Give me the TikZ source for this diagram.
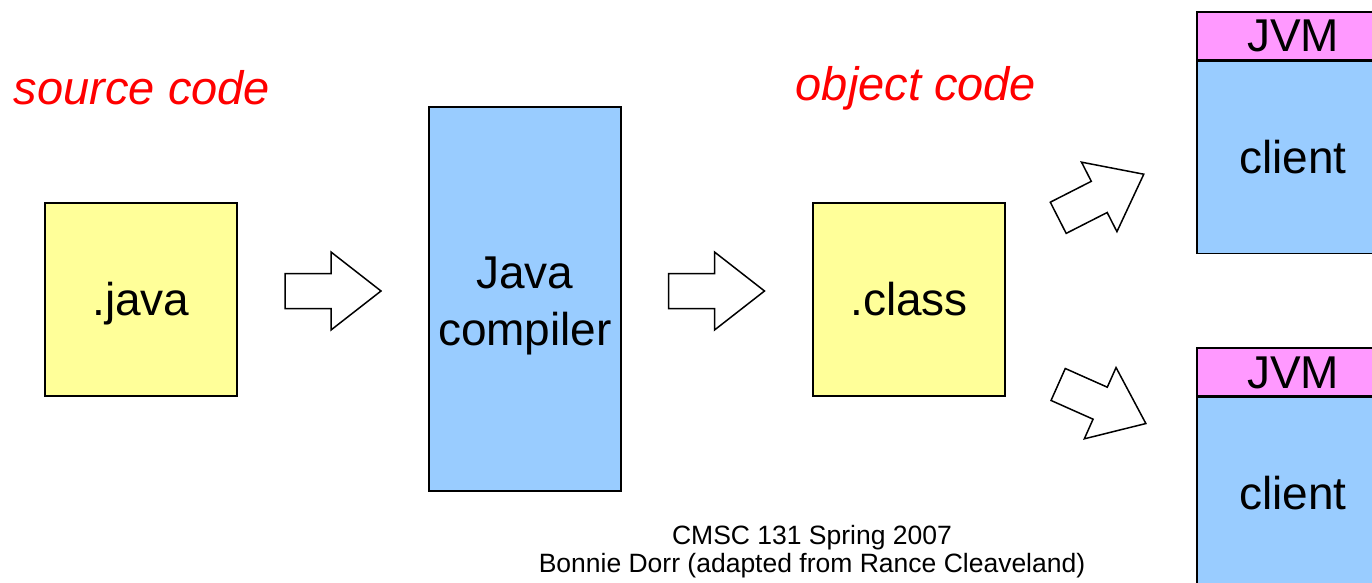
\documentclass[tikz,border=0pt]{standalone}
\usepackage{fontspec}
\setmainfont{Liberation Sans}
\usetikzlibrary{positioning}
\definecolor{srcyellow}{HTML}{FFFF99}
\definecolor{compblue}{HTML}{99CCFF}
\definecolor{jvmpink}{HTML}{FF99FF}
\definecolor{labelred}{HTML}{FF0000}
\begin{document}
\begin{tikzpicture}
[x=1pt,y=-1pt,
  boxdecorate/.style={shape=rectangle,draw,line width=1.5pt,inner sep=0pt,
    minimum width=192pt,font=\fontsize{46}{57}\selectfont,align=center,
    text height=37pt,text depth=5pt},%
  labeldecorate/.style={text=labelred,font=\fontsize{47}{55}\selectfont\itshape},%
  blockarrow/.pic={\draw[line width=1.5pt,fill=white]
    (-48,-17.5) -- (-2,-17.5) -- (-2,-39) -- (48,0) -- (-2,39)
    -- (-2,17.5) -- (-48,17.5) -- cycle;}]
\clip (0,0) rectangle (1372,583);
%% boxes
\node (java) at (141,299.5) [boxdecorate,fill=srcyellow,minimum height=193pt] {.java};
\node (compiler) at (525,299) [boxdecorate,fill=compblue,minimum height=384pt,
  text height=94pt,text depth=2pt] {Java\\compiler};
\node (class) at (909,299.5) [boxdecorate,fill=srcyellow,minimum height=193pt] {.class};
\foreach \nodename/\y in {top/36, bottom/372} {
  \node (jvm\nodename) at (1293,\y) [boxdecorate,fill=jvmpink,minimum height=48pt] {JVM};
  \node (client\nodename) [boxdecorate,fill=compblue,minimum height=192pt,
    below=0pt of jvm\nodename] {client};
}
%% labels
\node (source) at (142,88) [labeldecorate] {source code};
\node (object) at (916,88) [labeldecorate] {object code};
\node (credit) at (812,551.5) [align=center,font=\fontsize{26.5}{28}\selectfont]
  {CMSC 131 Spring 2007\\Bonnie Dorr (adapted from Rance Cleaveland)};
%% block arrows
\foreach \x/\y/\angle in {333/291/0, 716.5/291/0, 1101/196/27, 1102/404/-24} {
  \pic[rotate=\angle] at (\x,\y) {blockarrow};
}
\end{tikzpicture}
\end{document}
